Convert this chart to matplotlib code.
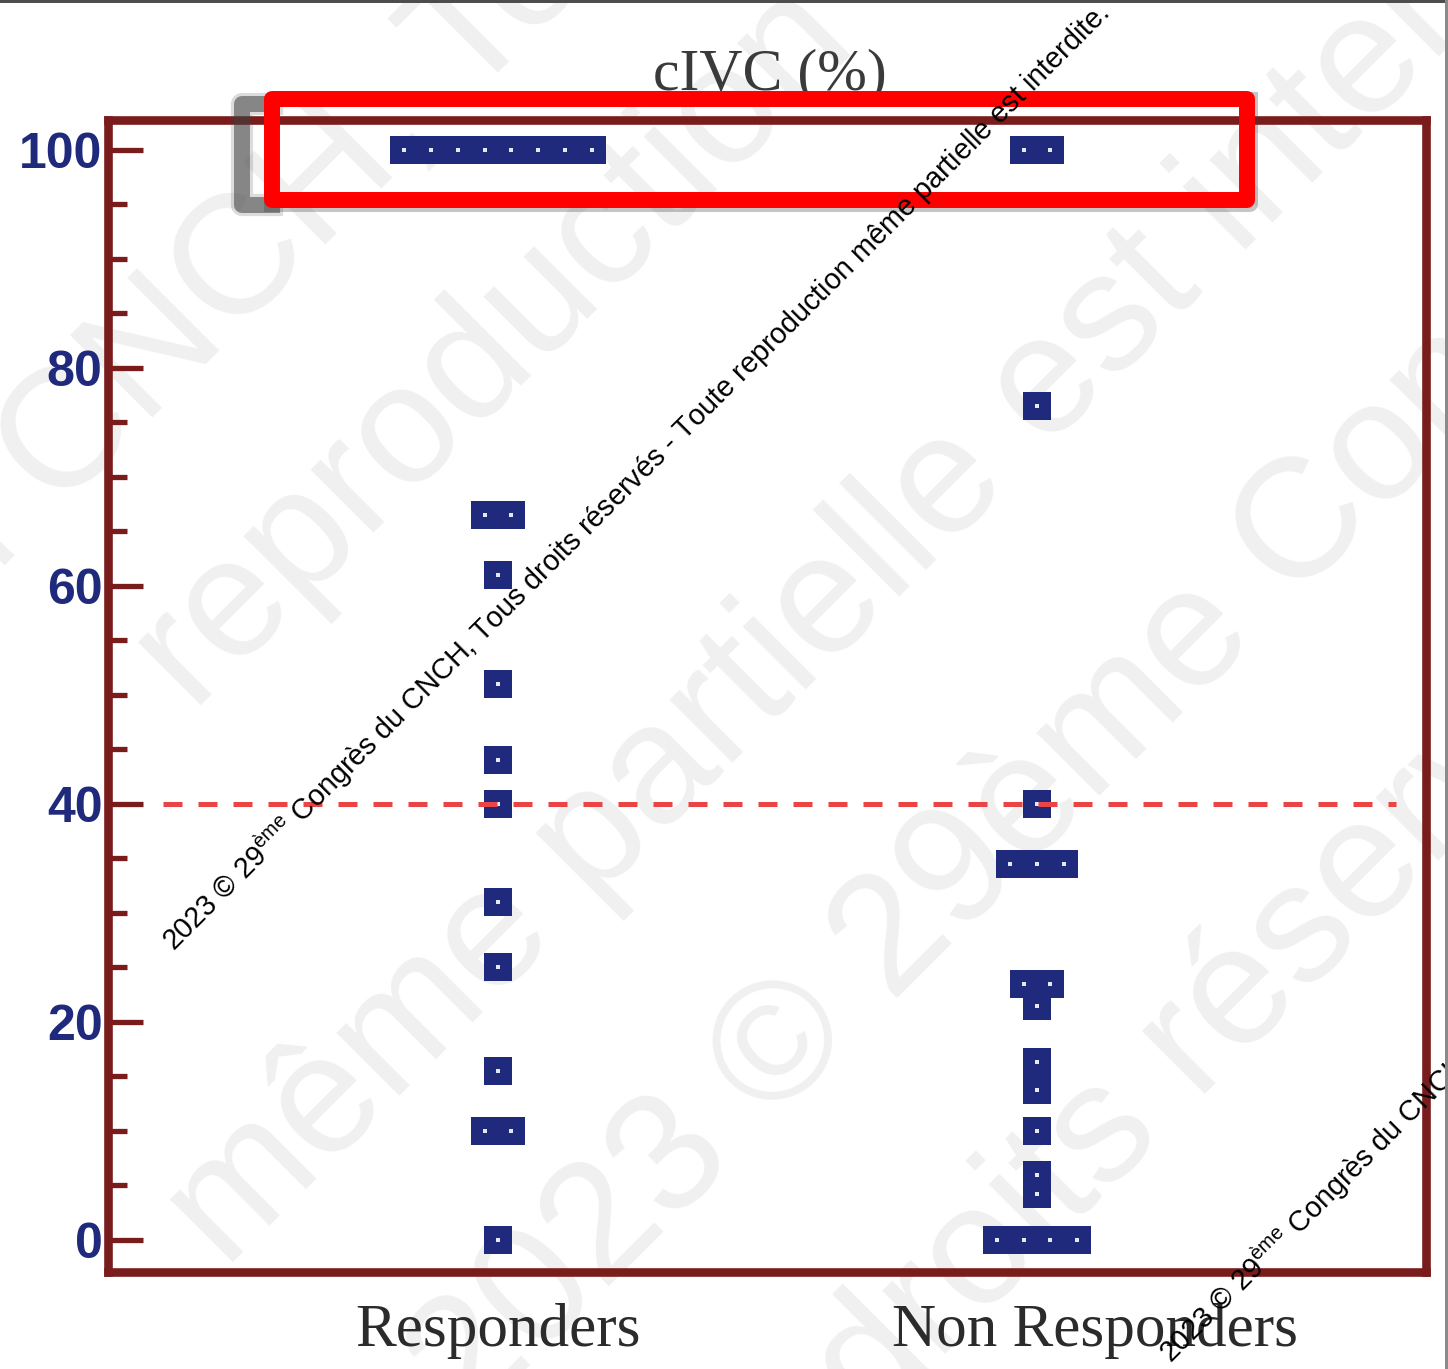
import numpy as np
import matplotlib.pyplot as plt
from matplotlib.patches import Rectangle
from matplotlib.lines import Line2D
from matplotlib.ticker import MultipleLocator

plt.rcParams['mathtext.fontset'] = 'custom'
plt.rcParams['mathtext.rm'] = 'Liberation Sans'

# ---- data ----
groups = ['Responders', 'Non Responders']
resp_vals = [100, 100, 100, 100, 100, 100, 100, 100,
             66.5, 66.5, 61, 51, 44, 40, 31, 25, 15.5, 10, 10, 0]
nonresp_vals = [100, 100, 76.5, 40, 34.5, 34.5, 34.5, 23.5, 23.5, 21.5,
                16.3, 13.8, 10, 6, 4.2, 0, 0, 0, 0]
yticks = [0, 20, 40, 60, 80, 100]
threshold = 40
title = 'cIVC (%)'
watermark = ('2023 © 29$^{\\mathrm{ème}}$ Congrès du CNCH, Tous droits réservés - '
             'Toute reproduction même partielle est interdite.')

navy = '#1f2a7c'
frame = '#7a1c1c'

W, H = 1448, 1369


def fx(px):
    return px / W


def fy(py):
    return 1 - py / H


def dot_x(center, vals, step=0.05):
    # equal values sit side by side, centred on the group
    counts = {v: vals.count(v) for v in vals}
    seen = {}
    xs = []
    for v in vals:
        i = seen.get(v, 0)
        seen[v] = i + 1
        xs.append(center + (i - (counts[v] - 1) / 2) * step)
    return xs


fig = plt.figure(figsize=(W / 100, H / 100), dpi=100)
fig.patch.set_facecolor('white')

# faint big watermark (behind the axes)
big = [('du CNCH, Tous droits', -110, 680),
       ('reproduction', 190, 705),
       ('même partielle est interdite', 225, 1270),
       ('2023 © 29ème Congrès', 470, 1425),
       ('Tous droits réservés', 585, 1715)]
for s, x0, y0 in big:
    fig.text(fx(x0), fy(y0), s, rotation=45, rotation_mode='anchor',
             ha='left', va='baseline', fontsize=122, color='#f0f0f0',
             family='Liberation Sans', zorder=-1)

ax = fig.add_axes([fx(108), fy(1272), fx(1426) - fx(108), fy(120) - fy(1272)])
ax.patch.set_facecolor('none')

for center, vals in zip([1, 2], [resp_vals, nonresp_vals]):
    xs = dot_x(center, vals)
    ax.scatter(xs, vals, marker='s', s=380, c=navy, linewidths=0, zorder=3)
    ax.scatter(xs, vals, marker='s', s=9, c='#e8e8f4', linewidths=0, zorder=4)

ax.axhline(threshold, xmin=0.042, xmax=0.977, color='#ea4444', lw=3.6,
           dashes=(3.8, 3.2), zorder=5)

ax.set_xlim(0.2764, 2.7217)
ax.set_ylim(-2.94, 102.75)

for sp in ax.spines.values():
    sp.set_color(frame)
    sp.set_linewidth(6.2)

ax.set_yticks(yticks)
ax.set_yticklabels([str(t) for t in yticks], fontweight='bold',
                   family='Liberation Sans')
ax.yaxis.set_minor_locator(MultipleLocator(5))
ax.tick_params(axis='y', which='major', direction='in', length=25, width=3.8,
               color=frame, labelsize=36, labelcolor=navy, pad=4)
ax.tick_params(axis='y', which='minor', direction='in', length=14, width=3.8,
               color=frame)

ax.set_xticks([1, 2.108])
ax.set_xticklabels(groups, family='Liberation Serif')
ax.tick_params(axis='x', length=0, pad=22, labelsize=44, labelcolor='#2b2b2b')

# title, partly hidden by the red box
fig.text(fx(770), fy(89), title, ha='center', va='baseline', fontsize=43,
         color='#3a3a3a', family='Liberation Serif', zorder=3)

# soft shadow: darker on the left, faint along bottom and right
for lw, a in [(16, 0.18), (11.5, 0.55)]:
    fig.add_artist(Line2D([fx(272), fx(242), fx(242), fx(272)],
                          [fy(103.5), fy(103.5), fy(205), fy(205)],
                          transform=fig.transFigure, color='#404040', alpha=a,
                          lw=lw, solid_joinstyle='round', zorder=9))
fig.add_artist(Line2D([fx(272), fx(1250), fx(1250)],
                      [fy(204), fy(204), fy(100)],
                      transform=fig.transFigure, color='#404040', alpha=0.3,
                      lw=11.5, solid_joinstyle='round', zorder=9))
fig.add_artist(Rectangle((fx(272), fy(199.5)), fx(1247) - fx(272),
                         fy(98.5) - fy(199.5), transform=fig.transFigure,
                         fill=False, ec='#ff0000', lw=11.5, joinstyle='round',
                         zorder=10))

# small black copyright lines
for x0, y0 in [(174, 952), (1171, 1364)]:
    fig.text(fx(x0), fy(y0), watermark, rotation=45, rotation_mode='anchor',
             ha='left', va='baseline', fontsize=20.7, color='black',
             family='Liberation Sans', zorder=20)

# screenshot edges
fig.add_artist(Rectangle((0, fy(3)), 1, fy(0) - fy(3), transform=fig.transFigure,
                         color='#4d4d4d', lw=0, zorder=30))
fig.add_artist(Rectangle((fx(1445), 0), fx(3), 1, transform=fig.transFigure,
                         color='#8a8a8a', lw=0, zorder=30))

fig.savefig('out.png', dpi=100)
